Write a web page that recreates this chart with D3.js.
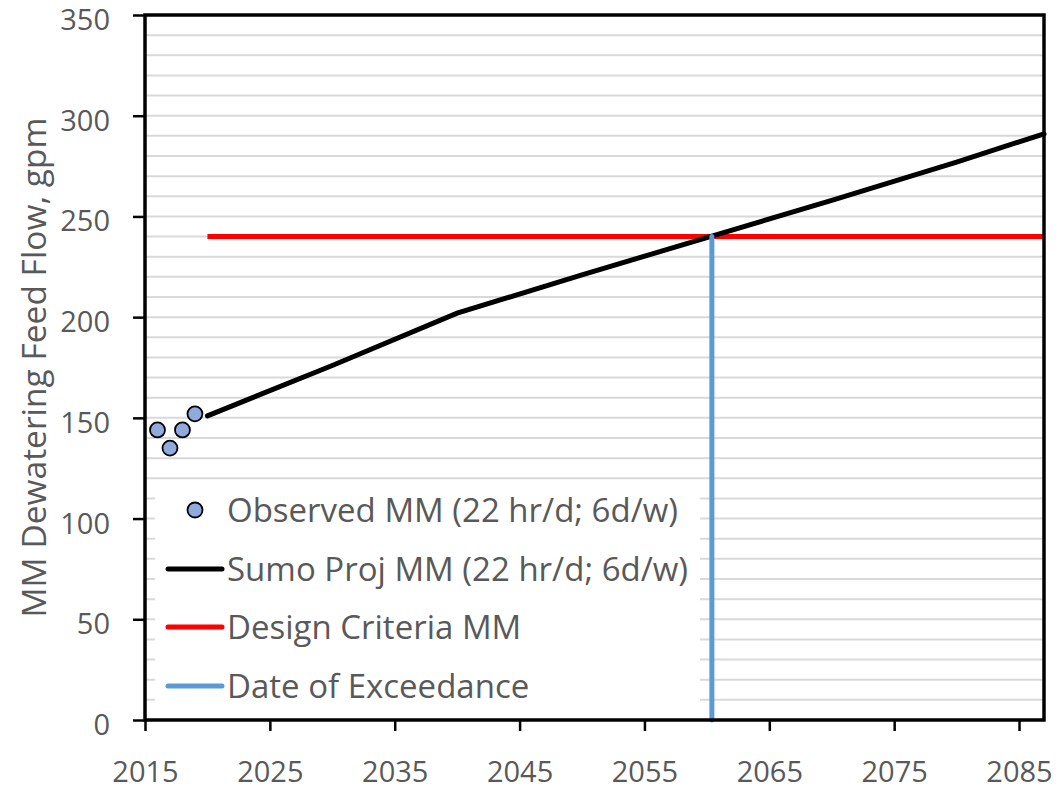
<!DOCTYPE html>
<html>
<head>
<meta charset="utf-8">
<script src="https://cdn.jsdelivr.net/npm/d3@7"></script>
<style>
  body { margin: 0; background: #fff; }
  text { font-family: "Open Sans", sans-serif; fill: #595959; }
</style>
</head>
<body>
<div id="chart"></div>
<script>
// observed points
const obsYears = [2016, 2017, 2018, 2019];
const obsFlow = [144, 135, 144, 152];
// sumo projection
const projYears = [2020, 2030, 2040, 2050, 2060, 2070, 2080, 2087];
const projFlow = [151, 176, 202, 221, 239.5, 258, 277, 291];
// design criteria
const designYears = [2020, 2087];
const designFlow = [240, 240];
// date of exceedance
const exceedYears = [2060.4, 2060.4];
const exceedFlow = [0, 240];

const xTicks = [2015, 2025, 2035, 2045, 2055, 2065, 2075, 2085];
const yTicks = [0, 50, 100, 150, 200, 250, 300, 350];
const legendLabels = ["Observed MM (22 hr/d; 6d/w)", "Sumo Proj MM (22 hr/d; 6d/w)", "Design Criteria MM", "Date of Exceedance"];

let width = 1058, height = 793,
  margin = ({ top: 15, right: 14, bottom: 73, left: 145 });

const svg = d3.select("#chart")
  .append("svg")
  .attr("width", width)
  .attr("height", height);

let x = d3.scaleLinear()
  .domain([2015, 2087])
  .range([margin.left, width - margin.right]);

let y = d3.scaleLinear()
  .domain([0, 350])
  .range([height - margin.bottom, margin.top]);

// minor gridlines every 10
svg.append("g")
  .selectAll("line")
  .data(d3.range(10, 350, 10))
  .join("line")
  .attr("x1", x(2015))
  .attr("x2", x(2087))
  .attr("y1", d => y(d))
  .attr("y2", d => y(d))
  .attr("stroke", "#d9d9d9")
  .attr("stroke-width", 2);

// legend box covers the grid
let lg = svg.append("g");
lg.append("rect")
  .attr("x", 155).attr("y", 482)
  .attr("width", 545).attr("height", 230)
  .attr("fill", "#fff");

let line = d3.line()
  .x(d => x(d[0]))
  .y(d => y(d[1]));

svg.append("path")
  .datum(d3.zip(designYears, designFlow))
  .attr("fill", "none")
  .attr("stroke", "#ff0000")
  .attr("stroke-width", 5)
  .attr("d", line);

svg.append("path")
  .datum(d3.zip(projYears, projFlow))
  .attr("fill", "none")
  .attr("stroke", "#000")
  .attr("stroke-width", 5)
  .attr("stroke-linecap", "round")
  .attr("d", line);

svg.append("path")
  .datum(d3.zip(exceedYears, exceedFlow))
  .attr("fill", "none")
  .attr("stroke", "#5b9bd5")
  .attr("stroke-width", 5)
  .attr("stroke-linecap", "round")
  .attr("d", line);

svg.append("g")
  .selectAll("circle")
  .data(d3.zip(obsYears, obsFlow))
  .join("circle")
  .attr("cx", d => x(d[0]))
  .attr("cy", d => y(d[1]))
  .attr("r", 7.5)
  .attr("fill", "#8faadc")
  .attr("stroke", "#000")
  .attr("stroke-width", 1.8);

// plot border
svg.append("rect")
  .attr("x", x(2015)).attr("y", y(350))
  .attr("width", x(2087) - x(2015))
  .attr("height", y(0) - y(350))
  .attr("fill", "none")
  .attr("stroke", "#000")
  .attr("stroke-width", 3.5);

// axes
let yAxis = svg.append("g")
  .attr("transform", `translate(${margin.left},0)`)
  .call(d3.axisLeft(y).tickValues(yTicks).tickSize(12).tickPadding(23).tickSizeOuter(0));
yAxis.select(".domain").remove();
yAxis.selectAll(".tick line").attr("stroke", "#000").attr("stroke-width", 2.5);
yAxis.selectAll(".tick text")
  .attr("font-size", 29)
  .attr("font-family", null)
  .attr("dy", "0.5em");

let xAxis = svg.append("g")
  .attr("transform", `translate(0,${height - margin.bottom})`)
  .call(d3.axisBottom(x).tickValues(xTicks).tickFormat(d3.format("d")).tickSize(11).tickPadding(30).tickSizeOuter(0));
xAxis.select(".domain").remove();
xAxis.selectAll(".tick line").attr("stroke", "#000").attr("stroke-width", 2.5);
xAxis.selectAll(".tick text")
  .attr("font-size", 29)
  .attr("font-family", null);

svg.append("text")
  .attr("text-anchor", "middle")
  .attr("transform", `translate(34,${y(175)}) rotate(-90)`)
  .attr("dy", "0.35em")
  .attr("font-size", 33.5)
  .text("MM Dewatering Feed Flow, gpm");

// legend
const rowY = [510, 569, 627, 686];
lg.append("circle")
  .attr("cx", 195).attr("cy", rowY[0]).attr("r", 7.5)
  .attr("fill", "#8faadc").attr("stroke", "#000").attr("stroke-width", 1.8);
const legendColors = ["#000", "#ff0000", "#5b9bd5"];
legendColors.forEach((c, i) => {
  lg.append("line")
    .attr("x1", 168).attr("x2", 222)
    .attr("y1", rowY[i + 1]).attr("y2", rowY[i + 1])
    .attr("stroke", c).attr("stroke-width", 5)
    .attr("stroke-linecap", "round");
});
lg.selectAll("text")
  .data(legendLabels)
  .join("text")
  .attr("x", 227)
  .attr("y", (d, i) => rowY[i])
  .attr("dy", "0.35em")
  .attr("font-size", 33)
  .text(d => d);
</script>
</body>
</html>
